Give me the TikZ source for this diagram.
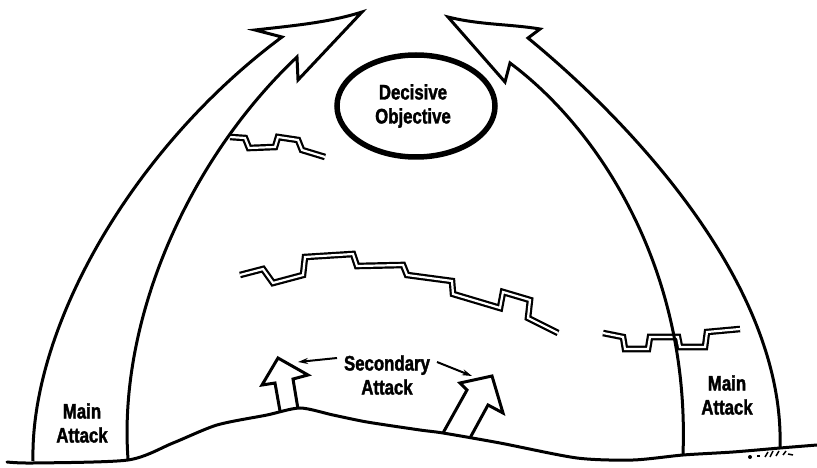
\documentclass[tikz,border=0pt]{standalone}
\usepackage{fontspec}
\newfontfamily\lblfont{Liberation Sans}[FakeStretch=0.8, BoldFeatures={FakeStretch=0.8, FakeBold=1.6}]
\usetikzlibrary{arrows.meta,shapes.geometric}
\begin{document}
\begin{tikzpicture}[x=1pt,y=-1pt,
  ink/.style={line width=3pt, line join=miter},
  ground/.style={line width=3pt, line cap=round},
  trench/.style={draw=black, double=white, line width=2.2pt, double distance=2.2pt},
  lbl/.style={font=\lblfont\bfseries\fontsize{21}{24}\selectfont, align=center, inner sep=0pt},
  leader/.style={line width=2pt, -{Stealth[length=10pt,width=6pt]}}]
\useasboundingbox (0,0) rectangle (817,468);

% trench lines
\draw[trench] plot coordinates {(230,137) (245,138) (249,148) (275,147) (278,137) (298,140) (302,150) (325,157)};
\draw[trench] plot coordinates {(240,275) (263,269) (273,283) (303,275) (305,257) (353,254) (357,266) (403,265) (407,275) (452,281) (453,294) (500,308) (503,292) (530,300) (528,318) (558,333)};
\draw[trench] plot coordinates {(603,333) (623,337) (625,349) (648,349) (650,337) (678,337) (680,347) (705,347) (707,332) (740,329)};

% main attack, left
\draw[ink] (33,461) .. controls (30,330) and (130,150) .. (282,37)
  -- (255,30) .. controls (300,25) and (330,22) .. (362,12)
  -- (298,80) -- (297,57)
  .. controls (188,160) and (118,320) .. (128,459);

% main attack, right
\draw[ink] (683,454) .. controls (690,270) and (600,130) .. (510,63)
  -- (505,82) -- (448,17) .. controls (480,25) and (510,24) .. (540,29)
  -- (528,38) .. controls (640,130) and (785,290) .. (780,448);

% ground
\draw[ground] plot[smooth, tension=0.45] coordinates {(7,462) (33,463) (128,460) (173,443) (217,425) (267,415) (300,408) (333,415) (367,422) (420,430) (443,433) (500,443) (577,458) (633,460) (683,455) (733,452) (780,448) (817,445)};

% secondary attacks
\draw[ink] (280,411) -- (275,383) -- (262,385) -- (278,358) -- (308,375) -- (293,379) -- (298,409);
\draw[ink] (443,433) -- (467,390) -- (460,383) -- (492,376) -- (503,413) -- (488,405) -- (470,438);

% objective
\node[draw, line width=5.5pt, ellipse, minimum width=158pt, minimum height=102pt] (obj) at (416,106) {};
\node[lbl] (objtxt) at (413,106) {Decisive\\Objective};

% labels
\node[lbl] (sec) at (387,375) {Secondary\\Attack};
\node[lbl] (mainL) at (82,423) {Main\\Attack};
\node[lbl] (mainR) at (727,395) {Main\\Attack};

% leaders from the label to the two small arrows
\coordinate (secLfrom) at (337,358);
\coordinate (secLto) at (298,362);
\coordinate (secRfrom) at (437,362);
\coordinate (secRto) at (472,376);
\draw[leader] (secLfrom) -- (secLto);
\draw[leader] (secRfrom) -- (secRto);

% file mark
\fill (750,457) circle (2pt);
\draw[line width=1.2pt] (757,456) -- (760,456);
\draw[line width=1.5pt] (765,457) -- (768,452) (770,457) -- (773,451) (776,456) -- (779,451) (783,455) -- (786,451) (788,454) -- (793,455);
\end{tikzpicture}
\end{document}
